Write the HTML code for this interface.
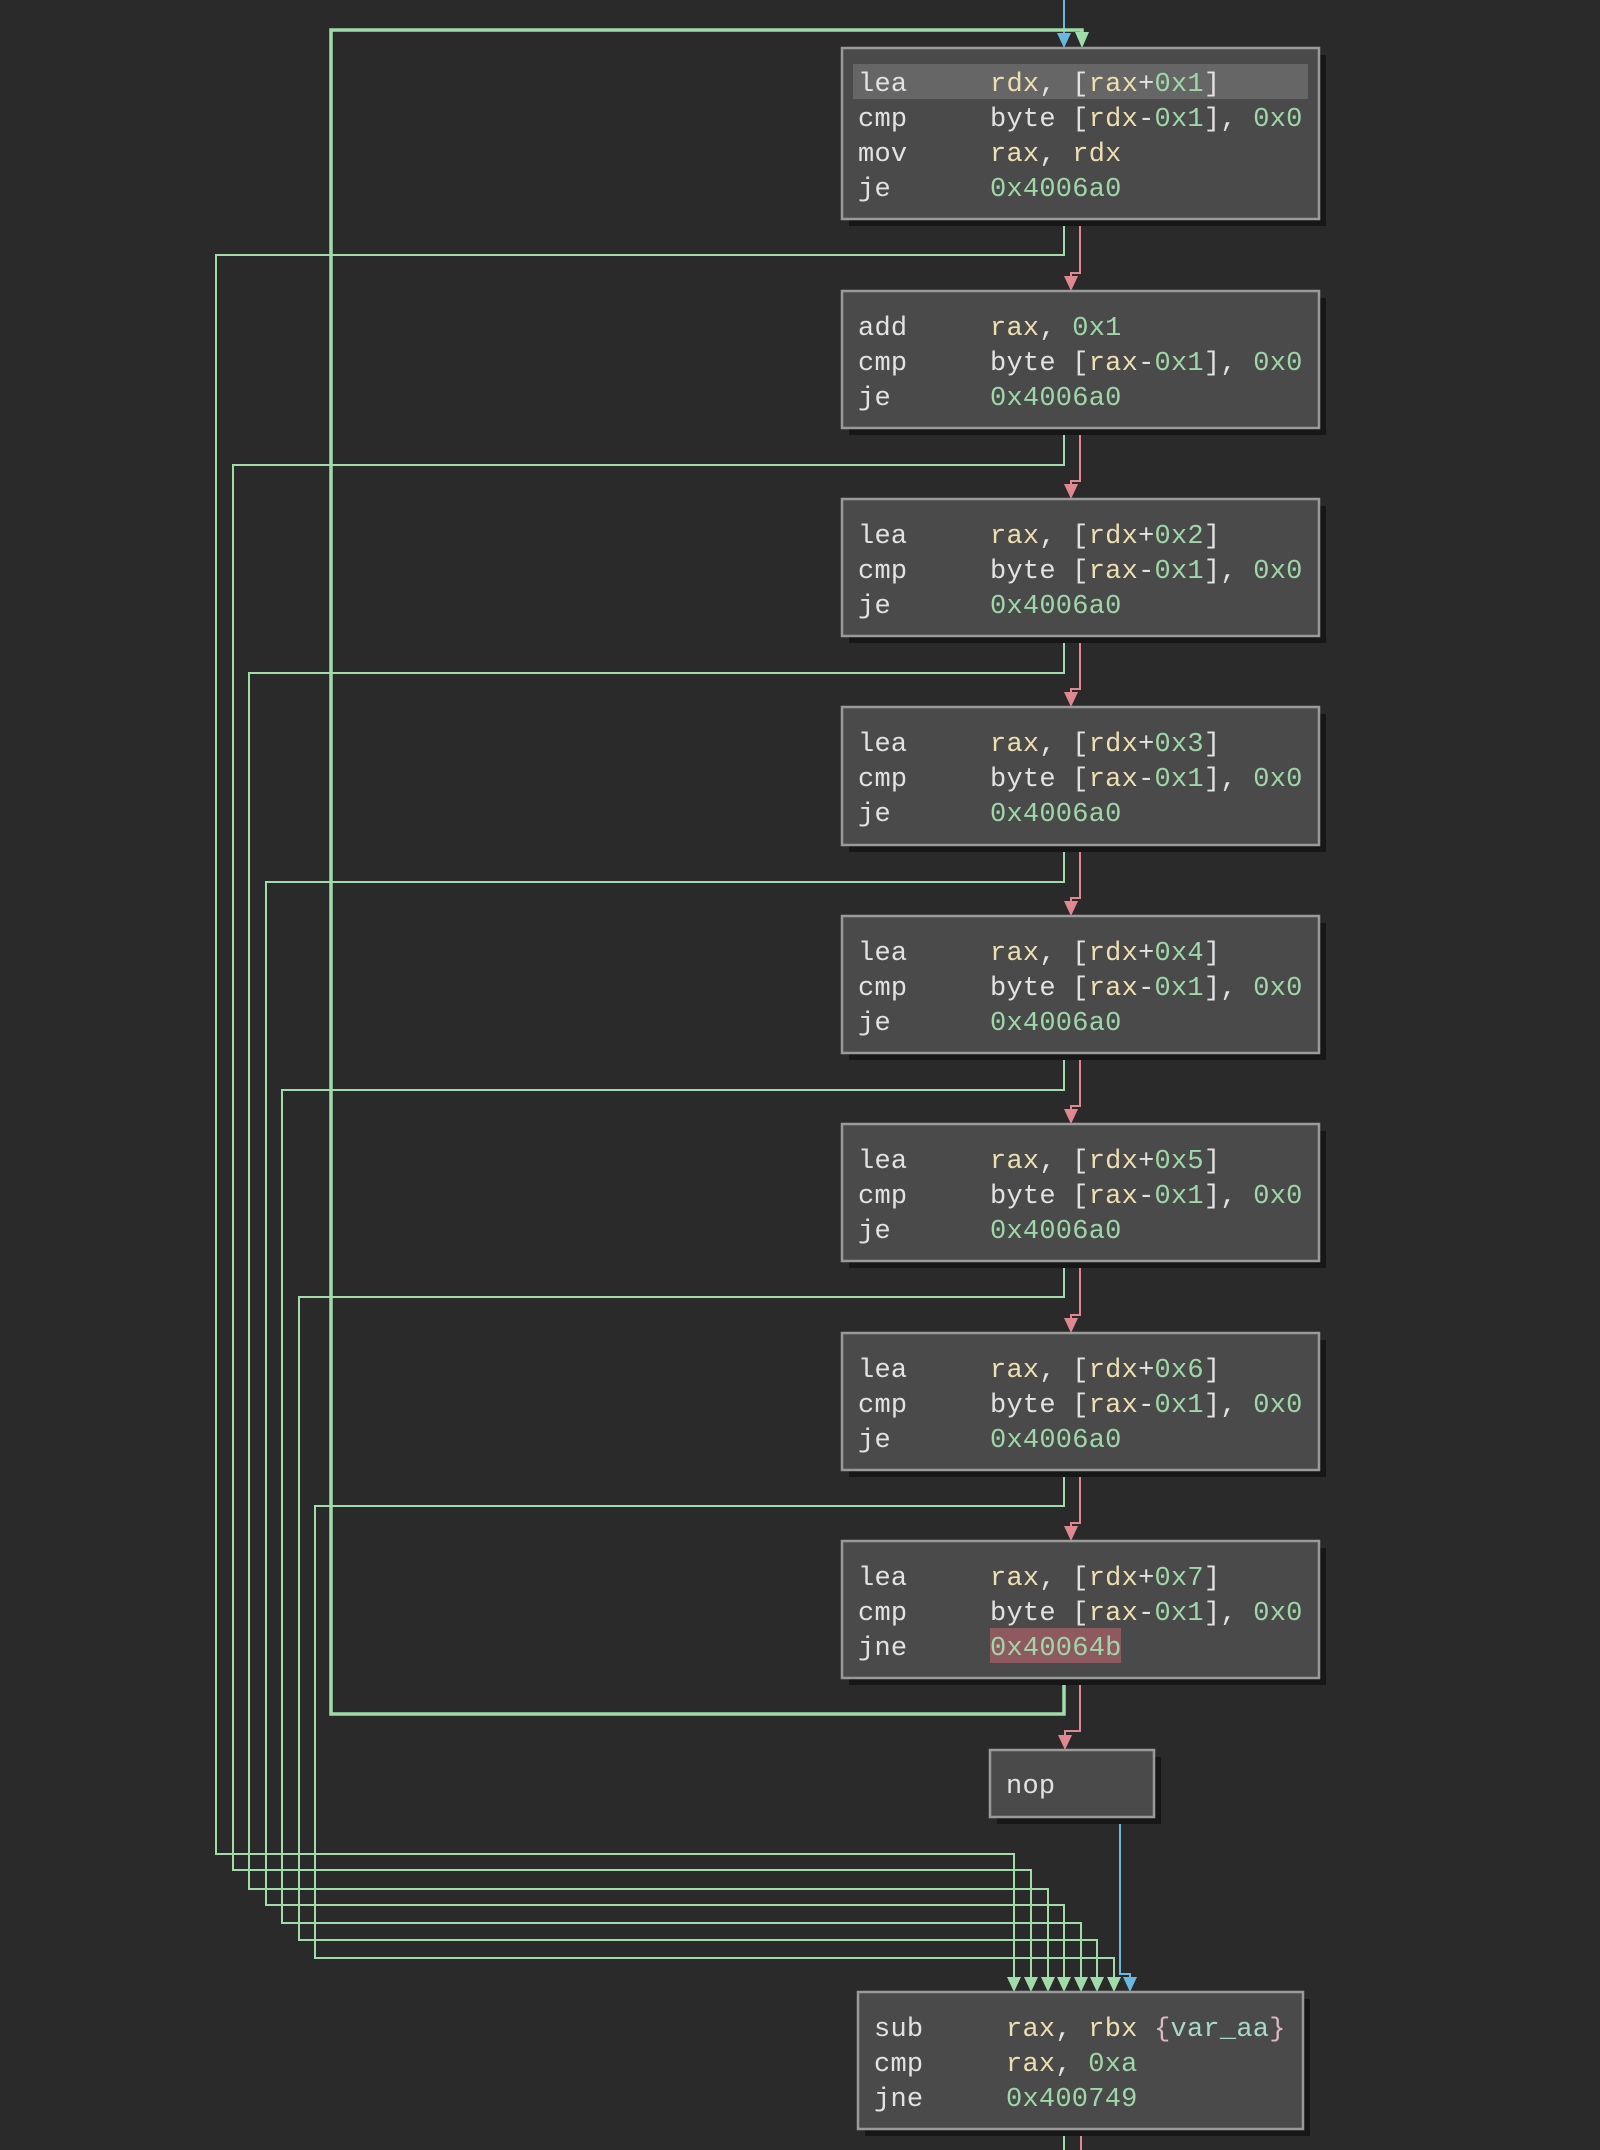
<!DOCTYPE html>
<html><head><meta charset="utf-8"><style>
html,body{margin:0;padding:0;background:#2a2a2a;}
svg{display:block;}
text{font-family:"Liberation Mono",monospace;font-size:27px;letter-spacing:0.25px;fill:#e2e2e2;dominant-baseline:central;}
.r{fill:#eedfb0}.n{fill:#9ed8a8}.p{fill:#dcb8c8}.v{fill:#a8d8c8}
.blk{fill:#4a4a4a;stroke:#9a9a9a;stroke-width:2.5}
.sh{fill:#171717}
.g{stroke:#a0dcaa;stroke-width:2;fill:none}
.rd{stroke:#e08890;stroke-width:2;fill:none}
.bl{stroke:#6ab8e0;stroke-width:2;fill:none}
</style></head><body>
<svg width="1600" height="2150" viewBox="0 0 1600 2150" xmlns="http://www.w3.org/2000/svg">
<rect width="1600" height="2150" fill="#2a2a2a"/>

<path class="bl" d="M1064 0V36"/>
<polygon points="1057,33 1071,33 1064,48" fill="#6ab8e0"/>
<path d="M1064 1678V1714H331V30H1082V36" stroke="#a0dcaa" stroke-width="3.5" fill="none"/>
<polygon points="1075,32 1089,32 1082,48" fill="#a0dcaa"/>

<path class="g" d="M1064 219V255H216V1854H1014V1980"/>
<path class="g" d="M1064 428V465H233V1870H1031V1980"/>
<path class="g" d="M1064 636V673H249V1889H1048V1980"/>
<path class="g" d="M1064 845V882H266V1905H1064V1980"/>
<path class="g" d="M1064 1053V1090H282V1923H1081V1980"/>
<path class="g" d="M1064 1261V1297H299V1940H1097V1980"/>
<path class="g" d="M1064 1470V1506H315V1958H1114V1980"/>
<g fill="#a0dcaa">
<polygon points="1007,1977 1021,1977 1014,1992"/>
<polygon points="1024,1977 1038,1977 1031,1992"/>
<polygon points="1041,1977 1055,1977 1048,1992"/>
<polygon points="1057,1977 1071,1977 1064,1992"/>
<polygon points="1074,1977 1088,1977 1081,1992"/>
<polygon points="1090,1977 1104,1977 1097,1992"/>
<polygon points="1107,1977 1121,1977 1114,1992"/>
</g>
<path class="bl" d="M1120 1817V1974H1130V1980"/>
<polygon points="1123,1977 1137,1977 1130,1992" fill="#6ab8e0"/>

<path class="rd" d="M1080 219V273H1071V280M1080 428V481H1071V488M1080 636V689H1071V696M1080 845V898H1071V905M1080 1053V1106H1071V1113M1080 1261V1315H1071V1322M1080 1470V1523H1071V1530M1080 1678V1731H1065V1738"/>
<g fill="#e08890">
<polygon points="1064,276 1078,276 1071,291"/>
<polygon points="1064,484 1078,484 1071,499"/>
<polygon points="1064,692 1078,692 1071,707"/>
<polygon points="1064,901 1078,901 1071,916"/>
<polygon points="1064,1109 1078,1109 1071,1124"/>
<polygon points="1064,1318 1078,1318 1071,1333"/>
<polygon points="1064,1526 1078,1526 1071,1541"/>
<polygon points="1058,1735 1072,1735 1065,1750"/>
</g>
<path class="g" d="M1064 2129V2150"/>
<path class="rd" d="M1081 2129V2150"/>

<g class="sh">
<rect x="849" y="55" width="477" height="171"/>
<rect x="849" y="298" width="477" height="137"/>
<rect x="849" y="506" width="477" height="137"/>
<rect x="849" y="714" width="477" height="138"/>
<rect x="849" y="923" width="477" height="137"/>
<rect x="849" y="1131" width="477" height="137"/>
<rect x="849" y="1340" width="477" height="137"/>
<rect x="849" y="1548" width="477" height="137"/>
<rect x="997" y="1757" width="164" height="67"/>
<rect x="865" y="1999" width="445" height="137"/>
</g>
<rect class="blk" x="842" y="48" width="477" height="171"/>
<rect class="blk" x="842" y="291" width="477" height="137"/>
<rect class="blk" x="842" y="499" width="477" height="137"/>
<rect class="blk" x="842" y="707" width="477" height="138"/>
<rect class="blk" x="842" y="916" width="477" height="137"/>
<rect class="blk" x="842" y="1124" width="477" height="137"/>
<rect class="blk" x="842" y="1333" width="477" height="137"/>
<rect class="blk" x="842" y="1541" width="477" height="137"/>
<rect class="blk" x="990" y="1750" width="164" height="67"/>
<rect class="blk" x="858" y="1992" width="445" height="137"/>

<rect x="853" y="64" width="455" height="35" fill="#666666"/>
<rect x="990" y="1628" width="131" height="35" fill="#8e5a60"/>

<g transform="translate(0,3)">
<text x="858" y="82">lea</text><text x="990" y="82"><tspan class="r">rdx</tspan>, [<tspan class="r">rax</tspan>+<tspan class="n">0x1</tspan>]</text>
<text x="858" y="117">cmp</text><text x="990" y="117">byte [<tspan class="r">rdx</tspan>-<tspan class="n">0x1</tspan>], <tspan class="n">0x0</tspan></text>
<text x="858" y="152">mov</text><text x="990" y="152"><tspan class="r">rax</tspan>, <tspan class="r">rdx</tspan></text>
<text x="858" y="187">je</text><text x="990" y="187" class="n">0x4006a0</text>

<text x="858" y="326">add</text><text x="990" y="326"><tspan class="r">rax</tspan>, <tspan class="n">0x1</tspan></text>
<text x="858" y="361">cmp</text><text x="990" y="361">byte [<tspan class="r">rax</tspan>-<tspan class="n">0x1</tspan>], <tspan class="n">0x0</tspan></text>
<text x="858" y="396">je</text><text x="990" y="396" class="n">0x4006a0</text>

<text x="858" y="534">lea</text><text x="990" y="534"><tspan class="r">rax</tspan>, [<tspan class="r">rdx</tspan>+<tspan class="n">0x2</tspan>]</text>
<text x="858" y="569">cmp</text><text x="990" y="569">byte [<tspan class="r">rax</tspan>-<tspan class="n">0x1</tspan>], <tspan class="n">0x0</tspan></text>
<text x="858" y="604">je</text><text x="990" y="604" class="n">0x4006a0</text>

<text x="858" y="742">lea</text><text x="990" y="742"><tspan class="r">rax</tspan>, [<tspan class="r">rdx</tspan>+<tspan class="n">0x3</tspan>]</text>
<text x="858" y="777">cmp</text><text x="990" y="777">byte [<tspan class="r">rax</tspan>-<tspan class="n">0x1</tspan>], <tspan class="n">0x0</tspan></text>
<text x="858" y="812">je</text><text x="990" y="812" class="n">0x4006a0</text>

<text x="858" y="951">lea</text><text x="990" y="951"><tspan class="r">rax</tspan>, [<tspan class="r">rdx</tspan>+<tspan class="n">0x4</tspan>]</text>
<text x="858" y="986">cmp</text><text x="990" y="986">byte [<tspan class="r">rax</tspan>-<tspan class="n">0x1</tspan>], <tspan class="n">0x0</tspan></text>
<text x="858" y="1021">je</text><text x="990" y="1021" class="n">0x4006a0</text>

<text x="858" y="1159">lea</text><text x="990" y="1159"><tspan class="r">rax</tspan>, [<tspan class="r">rdx</tspan>+<tspan class="n">0x5</tspan>]</text>
<text x="858" y="1194">cmp</text><text x="990" y="1194">byte [<tspan class="r">rax</tspan>-<tspan class="n">0x1</tspan>], <tspan class="n">0x0</tspan></text>
<text x="858" y="1229">je</text><text x="990" y="1229" class="n">0x4006a0</text>

<text x="858" y="1368">lea</text><text x="990" y="1368"><tspan class="r">rax</tspan>, [<tspan class="r">rdx</tspan>+<tspan class="n">0x6</tspan>]</text>
<text x="858" y="1403">cmp</text><text x="990" y="1403">byte [<tspan class="r">rax</tspan>-<tspan class="n">0x1</tspan>], <tspan class="n">0x0</tspan></text>
<text x="858" y="1438">je</text><text x="990" y="1438" class="n">0x4006a0</text>

<text x="858" y="1576">lea</text><text x="990" y="1576"><tspan class="r">rax</tspan>, [<tspan class="r">rdx</tspan>+<tspan class="n">0x7</tspan>]</text>
<text x="858" y="1611">cmp</text><text x="990" y="1611">byte [<tspan class="r">rax</tspan>-<tspan class="n">0x1</tspan>], <tspan class="n">0x0</tspan></text>
<text x="858" y="1646">jne</text><text x="990" y="1646" class="n">0x40064b</text>

<text x="1006" y="1784">nop</text>

<text x="874" y="2027">sub</text><text x="1006" y="2027"><tspan class="r">rax</tspan>, <tspan class="r">rbx</tspan> <tspan class="p">{</tspan><tspan class="v">var_aa</tspan><tspan class="p">}</tspan></text>
<text x="874" y="2062">cmp</text><text x="1006" y="2062"><tspan class="r">rax</tspan>, <tspan class="n">0xa</tspan></text>
<text x="874" y="2097">jne</text><text x="1006" y="2097" class="n">0x400749</text>
</g>
</svg>
</body></html>
